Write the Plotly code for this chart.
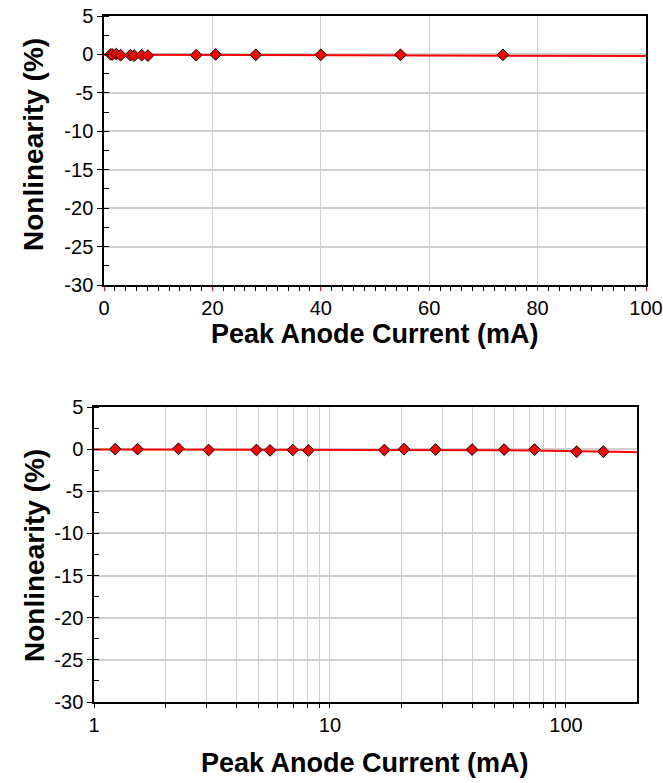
import numpy as np
import plotly.graph_objects as go

# Data
current_mA = [1.23, 1.53, 2.28, 3.06, 4.88, 5.57, 6.95, 8.1, 17.0, 20.6, 28.0, 40.0, 54.7, 73.6, 111.0, 144.0]
nonlinearity_pct = [0.0, 0.0, 0.05, -0.1, -0.1, -0.15, -0.1, -0.15, -0.1, 0.0, -0.05, -0.05, -0.05, -0.05, -0.3, -0.3]

x_title = "Peak Anode Current (mA)"
y_title = "Nonlinearity (%)"
y_ticks = [5, 0, -5, -10, -15, -20, -25, -30]
y_ticktext = ["5", "0", "-5", "-10", "-15", "-20", "-25", "-30"]

# Linear trend line through the data
slope, intercept = np.polyfit(current_mA, nonlinearity_pct, 1)
fit_top_x = np.linspace(0, 100, 50)
fit_bot_x = np.logspace(0, np.log10(200), 80)

FONT = "Liberation Sans, Arial, sans-serif"
fig = go.Figure()

for xs, xa, ya in [(fit_top_x, "x", "y"), (fit_bot_x, "x2", "y2")]:
    fig.add_trace(go.Scatter(x=xs, y=slope * xs + intercept, mode="lines",
                             line=dict(color="#ff0000", width=2),
                             xaxis=xa, yaxis=ya, showlegend=False, hoverinfo="skip"))
    fig.add_trace(go.Scatter(x=current_mA, y=nonlinearity_pct, mode="markers",
                             marker=dict(symbol="diamond", size=9, color="#ff0000",
                                         line=dict(color="#000000", width=1)),
                             xaxis=xa, yaxis=ya, showlegend=False))

grid_c = "#d0d0d0"
common_y = dict(range=[-30, 5], tickvals=y_ticks, ticktext=y_ticktext, ticks="outside", ticklen=5,
                tickcolor="#000", showgrid=True, gridcolor=grid_c, gridwidth=1.5,
                zeroline=False, showline=True, linecolor="#000", linewidth=1.5,
                mirror=True, automargin=False,
                tickfont=dict(family=FONT, size=20, color="#000"),
                minor=dict(dtick=2.5, ticks="inside", ticklen=5, tickcolor="#000", showgrid=False))
right_y = dict(range=[-30, 5], side="right", showticklabels=False, ticks="", showgrid=False,
               zeroline=False, showline=False, automargin=False, tickvals=y_ticks,
               minor=dict(dtick=2.5, ticks="inside", ticklen=5, tickcolor="#000", showgrid=False))

fig.update_layout(
    width=663, height=783,
    margin=dict(l=0, r=0, t=0, b=0, autoexpand=False),
    paper_bgcolor="white", plot_bgcolor="white",
    xaxis=dict(domain=[104 / 663, 646 / 663], anchor="y", range=[0, 100], dtick=20,
               ticks="outside", ticklen=4, tickcolor="#ff0000", automargin=False,
               showgrid=True, gridcolor=grid_c, gridwidth=1, zeroline=False,
               showline=True, linecolor="#000", linewidth=1.5, mirror=True,
               tickfont=dict(family=FONT, size=20, color="#000"),
               minor=dict(dtick=2, ticks="outside", ticklen=4, tickcolor="#000", showgrid=False)),
    yaxis=dict(domain=[(783 - 285) / 783, (783 - 16) / 783], anchor="x", **common_y),
    yaxis3=dict(overlaying="y", anchor="x", **right_y),
    xaxis2=dict(domain=[94 / 663, 637 / 663], anchor="y2", type="log", automargin=False,
                range=[0, np.log10(200)], tickvals=[1, 10, 100], ticktext=["1", "10", "100"],
                ticks="outside", ticklen=4, tickcolor="#000",
                showgrid=True, gridcolor=grid_c, gridwidth=1, zeroline=False,
                showline=True, linecolor="#000", linewidth=1.5, mirror=True,
                tickfont=dict(family=FONT, size=20, color="#000"),
                minor=dict(tickvals=[2, 3, 4, 5, 6, 7, 8, 9, 20, 30, 40, 50, 60, 70, 80, 90],
                           ticks="outside", ticklen=4, tickcolor="#000",
                           showgrid=True, gridcolor=grid_c, gridwidth=1)),
    yaxis2=dict(domain=[(783 - 702) / 783, (783 - 407) / 783], anchor="x2", **common_y),
    yaxis4=dict(overlaying="y2", anchor="x2", **right_y),
    annotations=[
        dict(text="<b>" + x_title + "</b>", x=375 / 663, y=1 - 334 / 783, xref="paper", yref="paper",
             xanchor="center", yanchor="middle",
             showarrow=False, font=dict(family=FONT, size=27, color="#000")),
        dict(text="<b>" + x_title + "</b>", x=365 / 663, y=1 - 763 / 783, xref="paper", yref="paper",
             xanchor="center", yanchor="middle",
             showarrow=False, font=dict(family=FONT, size=27, color="#000")),
        dict(text="<b>" + y_title + "</b>", x=34 / 663, y=1 - 145 / 783, xref="paper", yref="paper",
             xanchor="center", yanchor="middle",
             showarrow=False, textangle=-90, font=dict(family=FONT, size=28, color="#000")),
        dict(text="<b>" + y_title + "</b>", x=34 / 663, y=1 - 556 / 783, xref="paper", yref="paper",
             xanchor="center", yanchor="middle",
             showarrow=False, textangle=-90, font=dict(family=FONT, size=28, color="#000")),
    ],
)

fig.write_html("out.html")
